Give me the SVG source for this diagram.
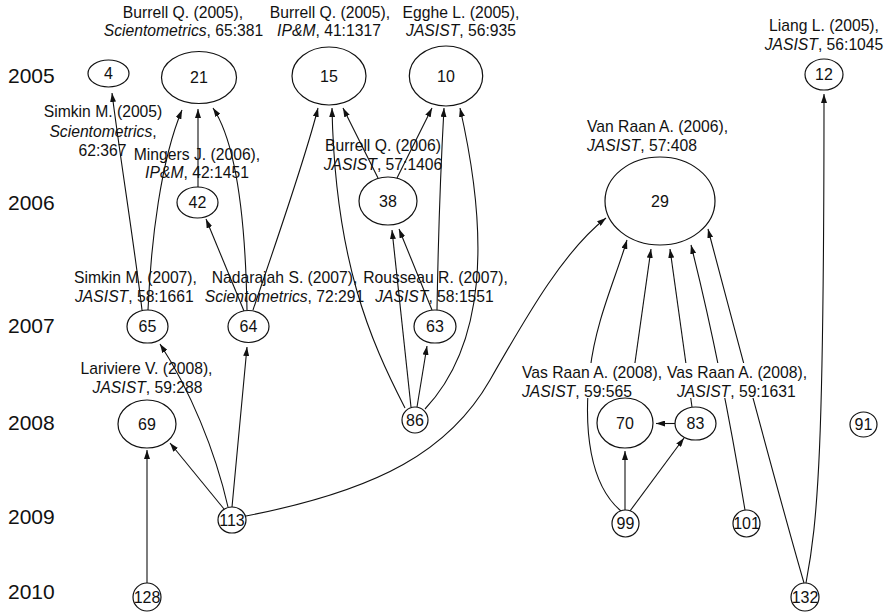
<svg xmlns="http://www.w3.org/2000/svg" width="891" height="612" viewBox="0 0 891 612">
<style>
text{font-family:"Liberation Sans",Arial,sans-serif;fill:#111}
.yr{font-size:21px}
.lb{font-size:15.7px}
.lb tspan.i{font-style:italic}
.nd ellipse{fill:#fff;stroke:#111;stroke-width:1.2}
.nd text.n{font-size:16px;text-anchor:middle}
.c{text-anchor:middle}
#edges path{fill:none;stroke:#111;stroke-width:1.1;marker-end:url(#ah)}
.bg{fill:#fff}
</style>
<defs>
<marker id="ah" viewBox="0 0 9 6" refX="9" refY="3" markerWidth="9" markerHeight="6" markerUnits="userSpaceOnUse" orient="auto">
<path d="M0,0 L9,3 L0,6 z" fill="#111"/>
</marker>
</defs>
<rect width="891" height="612" fill="#fff"/>
<g id="years">
<text class="yr" x="8" y="83">2005</text>
<text class="yr" x="8" y="210">2006</text>
<text class="yr" x="8" y="333">2007</text>
<text class="yr" x="8" y="429.5">2008</text>
<text class="yr" x="8" y="523.5">2009</text>
<text class="yr" x="8" y="599">2010</text>
</g>
<g id="edges">
<path d="M142,310 C135,250 119,150 112,93"/>
<path d="M148,310 C151,240 161,160 182,110"/>
<path d="M198,187 L198,109"/>
<path d="M247,310 C246,250 241,150 213,108"/>
<path d="M244,311 L206,219"/>
<path d="M253,310 C275,245 305,160 318,108"/>
<path d="M378,178 L343,108"/>
<path d="M397,178 L432,108"/>
<path d="M432,310 L399,229"/>
<path d="M437,310 C438,250 440,180 444,108"/>
<path d="M405,408 C370,340 335,260 332,108"/>
<path d="M411,407 L392,230"/>
<path d="M417,407 L427,346"/>
<path d="M425,409 C485,345 490,240 460,108"/>
<path d="M228,507 C215,450 190,390 160,344"/>
<path d="M232,507 L247,347"/>
<path d="M224,509 L170,443"/>
<path d="M246,516 C380,490 450,450 490,380 S565,250 606,218"/>
<path d="M147,583 L147,450"/>
<path d="M625,510 L625,451"/>
<path d="M630,511 L684,438"/>
<path d="M675,423.5 L656,423.5"/>
<path d="M621,511 C590,485 583,430 590,370 C596,320 615,280 627,240"/>
<path d="M630,398 L651,249"/>
<path d="M692,407 L670,249"/>
<path d="M745,510 C735,450 715,340 691,245"/>
<path d="M804,583 C780,500 740,350 708,229"/>
<path d="M806,583 C818,520 824,450 824,94"/>
</g>
<g id="n4" class="nd">
<ellipse cx="108.5" cy="73.5" rx="20.5" ry="13.5"/>
<text class="n" x="108.5" y="79">4</text>
<text class="lb c" x="103" y="117">Simkin M. (2005)</text>
<text class="lb c" x="103" y="136.5"><tspan class="i">Scientometrics</tspan>,</text>
<text class="lb c" x="102.5" y="156">62:367</text>
</g>
<g id="n21" class="nd">
<ellipse cx="199" cy="77.5" rx="37.5" ry="26"/>
<text class="n" x="199" y="83">21</text>
<text class="lb c" x="183" y="18">Burrell Q. (2005),</text>
<text class="lb c" x="183.5" y="36"><tspan class="i">Scientometrics</tspan>, 65:381</text>
</g>
<g id="n15" class="nd">
<ellipse cx="329" cy="76" rx="37" ry="29"/>
<text class="n" x="329" y="81.5">15</text>
<text class="lb c" x="330" y="18">Burrell Q. (2005),</text>
<text class="lb c" x="329" y="36"><tspan class="i">IP&amp;M</tspan>, 41:1317</text>
</g>
<g id="n10" class="nd">
<ellipse cx="446" cy="76" rx="36.7" ry="30"/>
<text class="n" x="446" y="81.5">10</text>
<text class="lb c" x="461" y="18">Egghe L. (2005),</text>
<text class="lb c" x="461" y="36"><tspan class="i">JASIST</tspan>, 56:935</text>
</g>
<g id="n12" class="nd">
<ellipse cx="824" cy="74.5" rx="19" ry="15.5"/>
<text class="n" x="824" y="80">12</text>
<text class="lb c" x="824" y="31">Liang L. (2005),</text>
<text class="lb c" x="824" y="50"><tspan class="i">JASIST</tspan>, 56:1045</text>
</g>
<g id="n42" class="nd">
<ellipse cx="197.5" cy="202.5" rx="20.5" ry="15.5"/>
<text class="n" x="197.5" y="208">42</text>
<text class="lb c" x="197" y="160">Mingers J. (2006),</text>
<text class="lb c" x="197" y="178"><tspan class="i">IP&amp;M</tspan>, 42:1451</text>
</g>
<g id="n38" class="nd">
<ellipse cx="388" cy="201" rx="29" ry="24"/>
<text class="n" x="388" y="206.5">38</text>
<text class="lb c" x="383" y="150.5">Burrell Q. (2006)</text>
<text class="lb c" x="383" y="169.5"><tspan class="i">JASIST</tspan>, 57:1406</text>
</g>
<g id="n29" class="nd">
<ellipse cx="660" cy="201" rx="55" ry="44"/>
<text class="n" x="660" y="206.5">29</text>
<text class="lb" x="587" y="131.5">Van Raan A. (2006),</text>
<text class="lb" x="587" y="150.5"><tspan class="i">JASIST</tspan>, 57:408</text>
</g>
<g id="n65" class="nd">
<ellipse cx="147.5" cy="326.5" rx="20.5" ry="16.5"/>
<text class="n" x="147.5" y="332">65</text>
<text class="lb" x="74" y="283">Simkin M. (2007),</text>
<text class="lb" x="75" y="301.5"><tspan class="i">JASIST</tspan>, 58:1661</text>
</g>
<g id="n64" class="nd">
<ellipse cx="248.5" cy="326.5" rx="20.5" ry="16"/>
<text class="n" x="248.5" y="332">64</text>
<text class="lb c" x="284.5" y="283">Nadarajah S. (2007),</text>
<text class="lb c" x="284.5" y="301.5"><tspan class="i">Scientometrics</tspan>, 72:291</text>
</g>
<g id="n63" class="nd">
<ellipse cx="435" cy="326.5" rx="21" ry="16.5"/>
<text class="n" x="435" y="332">63</text>
<text class="lb c" x="435.5" y="283">Rousseau R. (2007),</text>
<text class="lb c" x="434.5" y="301.5"><tspan class="i">JASIST</tspan>, 58:1551</text>
</g>
<g id="n86" class="nd">
<ellipse cx="415" cy="420" rx="13" ry="13"/>
<text class="n" x="415" y="425.5">86</text>
</g>
<g id="n69" class="nd">
<ellipse cx="147" cy="424" rx="29" ry="24"/>
<text class="n" x="147" y="429.5">69</text>
<text class="lb c" x="146.5" y="373.5">Lariviere V. (2008),</text>
<text class="lb c" x="147.5" y="392.5"><tspan class="i">JASIST</tspan>, 59:288</text>
</g>
<g id="n70" class="nd">
<rect class="bg" x="521" y="363" width="146" height="35"/>
<ellipse cx="625" cy="423" rx="28" ry="25"/>
<text class="n" x="625" y="428.5">70</text>
<text class="lb" x="522" y="378">Vas Raan A. (2008),</text>
<text class="lb" x="522" y="396.5"><tspan class="i">JASIST</tspan>, 59:565</text>
</g>
<g id="n83" class="nd">
<rect class="bg" x="667" y="363" width="148" height="35"/>
<ellipse cx="695.5" cy="423.5" rx="20.5" ry="16.5"/>
<text class="n" x="695.5" y="429">83</text>
<text class="lb" x="667" y="378">Vas Raan A. (2008),</text>
<text class="lb" x="677" y="396.5"><tspan class="i">JASIST</tspan>, 59:1631</text>
</g>
<g id="n91" class="nd">
<ellipse cx="863.5" cy="424.5" rx="13.5" ry="12.5"/>
<text class="n" x="863.5" y="430">91</text>
</g>
<g id="n113" class="nd">
<ellipse cx="232" cy="520" rx="14" ry="13"/>
<text class="n" x="232" y="525.5">113</text>
</g>
<g id="n99" class="nd">
<ellipse cx="625.5" cy="523.5" rx="13.5" ry="13.5"/>
<text class="n" x="625.5" y="529">99</text>
</g>
<g id="n101" class="nd">
<ellipse cx="746.5" cy="523.5" rx="13.5" ry="13.5"/>
<text class="n" x="746.5" y="529">101</text>
</g>
<g id="n128" class="nd">
<ellipse cx="147" cy="597" rx="14" ry="14"/>
<text class="n" x="147" y="602.5">128</text>
</g>
<g id="n132" class="nd">
<ellipse cx="805" cy="597" rx="14" ry="14"/>
<text class="n" x="805" y="602.5">132</text>
</g>
</svg>
